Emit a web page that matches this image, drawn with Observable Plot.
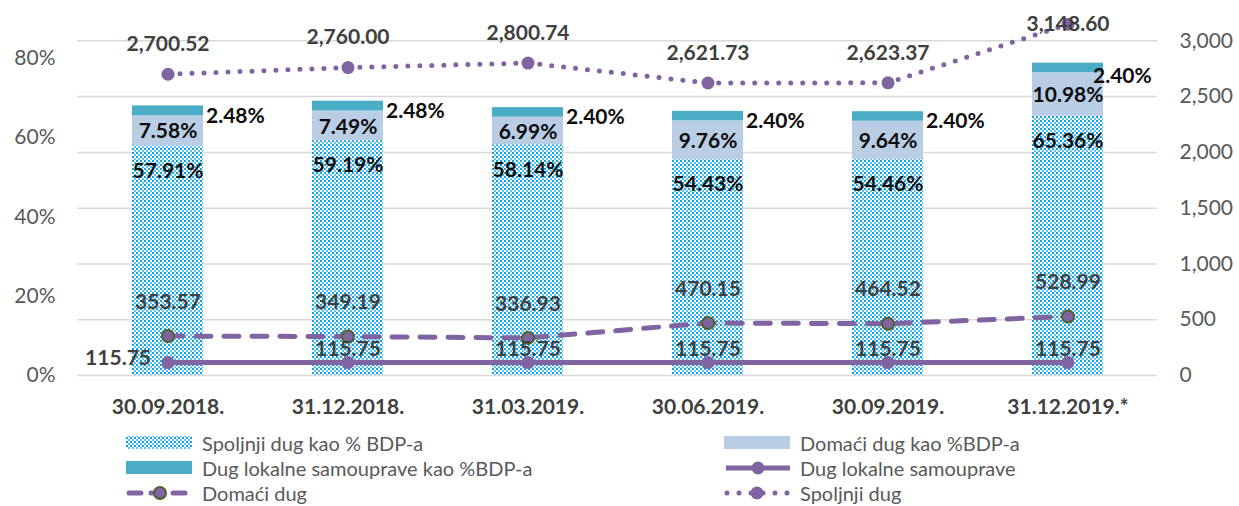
<!DOCTYPE html>
<html>
<head>
<meta charset="utf-8">
<script src="https://cdn.jsdelivr.net/npm/d3@7"></script>
<script src="https://cdn.jsdelivr.net/npm/@observablehq/plot@0.6"></script>
<style>
  html, body { margin: 0; padding: 0; background: #fff; }
  body { width: 1239px; height: 506px; position: relative; overflow: hidden; font-family: Lato, "Open Sans", sans-serif; }
  #chart { position: absolute; left: 0; top: 0; }
  .legend-item { position: absolute; display: flex; align-items: center; font-size: 20px; color: #595959; white-space: nowrap; line-height: 24px; }
  .legend-item svg { margin-right: 8px; flex: none; }
</style>
</head>
<body>
<div id="chart"></div>
<div id="legend"></div>
<script>
// ---- data ----
const dates = ["30.09.2018.", "31.12.2018.", "31.03.2019.", "30.06.2019.", "30.09.2019.", "31.12.2019.*"];
const spoljnjiPct = [57.91, 59.19, 58.14, 54.43, 54.46, 65.36];
const domaciPct = [7.58, 7.49, 6.99, 9.76, 9.64, 10.98];
const lokalnePct = [2.48, 2.48, 2.40, 2.40, 2.40, 2.40];
const spoljnjiDug = [2700.52, 2760.00, 2800.74, 2621.73, 2623.37, 3148.60];
const domaciDug = [353.57, 349.19, 336.93, 470.15, 464.52, 528.99];
const lokalneDug = [115.75, 115.75, 115.75, 115.75, 115.75, 115.75];
const leftTicks = [0, 20, 40, 60, 80];
const rightTicks = [0, 500, 1000, 1500, 2000, 2500, 3000];
const leftMax = 90;
const rightMax = 3200;

const toLeft = v => v / rightMax * leftMax;
const fmtPct = v => v.toFixed(2) + "%";
const fmtNum = d3.format(",.2f");

const rows = dates.map((date, i) => ({
  date,
  ext: spoljnjiPct[i],
  dom: domaciPct[i],
  loc: lokalnePct[i],
  extDebt: spoljnjiDug[i],
  domDebt: domaciDug[i],
  locDebt: lokalneDug[i],
  i
}));

const purple = "#8064A2";
const labelGrey = "#404040";
const axisGrey = "#595959";

const chart = Plot.plot({
  width: 1239,
  height: 430,
  marginLeft: 77,
  marginRight: 82,
  marginTop: 18,
  marginBottom: 55,
  style: { fontFamily: "Lato, 'Open Sans', sans-serif", background: "transparent" },
  x: { type: "band", domain: dates, paddingInner: 0.606, paddingOuter: 0.303, axis: null, label: null },
  y: { domain: [0, leftMax], axis: null, label: null },
  marks: [
    Plot.gridY(rightTicks.map(toLeft), { stroke: "#d9d9d9", strokeOpacity: 1, strokeWidth: 1.5 }),
    Plot.axisY(leftTicks, { anchor: "left", label: null, tickSize: 0, tickPadding: 22, tickFormat: d => d + "%", fontSize: 21, color: axisGrey }),
    Plot.axisY(rightTicks.map(toLeft), { anchor: "right", label: null, tickSize: 0, tickPadding: 22, tickFormat: d => d3.format(",")(Math.round(d / leftMax * rightMax)), fontSize: 21, color: axisGrey }),
    Plot.axisX(dates, { label: null, tickSize: 0, tickPadding: 24, fontSize: 21, fontWeight: "bold", color: labelGrey }),
    // stacked bars
    Plot.barY(rows, { x: "date", y1: 0, y2: "ext", fill: "url(#dots)" }),
    Plot.barY(rows, { x: "date", y1: d => d.ext, y2: d => d.ext + d.dom, fill: "#B9CDE5" }),
    Plot.barY(rows, { x: "date", y1: d => d.ext + d.dom, y2: d => d.ext + d.dom + d.loc, fill: "#4BACC6" }),
    // bar labels
    Plot.text(rows, { x: "date", y: "ext", text: d => fmtPct(d.ext), dy: 25, fontSize: 21, fontWeight: "bold", fill: "#0d0d0d" }),
    Plot.text(rows, { x: "date", y: d => d.ext + d.dom / 2, text: d => fmtPct(d.dom), dy: 1, fontSize: 21, fontWeight: "bold", fill: "#0d0d0d" }),
    Plot.text(rows.filter(d => d.i < 5), { x: "date", y: d => d.ext + d.dom + d.loc / 2, text: d => fmtPct(d.loc), dx: 38, dy: 5, textAnchor: "start", fontSize: 21, fontWeight: "bold", fill: "#0d0d0d" }),
    Plot.text(rows.filter(d => d.i === 5), { x: "date", y: d => d.ext + d.dom + d.loc / 2, text: d => fmtPct(d.loc), dx: 25, dy: 8, textAnchor: "start", fontSize: 21, fontWeight: "bold", fill: "#0d0d0d" }),
    // lines
    Plot.line(rows, { x: "date", y: d => toLeft(d.locDebt), stroke: purple, strokeWidth: 5 }),
    Plot.line(rows, { x: "date", y: d => toLeft(d.domDebt), stroke: purple, strokeWidth: 5, strokeDasharray: "15 13", strokeLinecap: "round" }),
    Plot.line(rows, { x: "date", y: d => toLeft(d.extDebt), stroke: purple, strokeWidth: 5, strokeDasharray: "0 12", strokeLinecap: "round" }),
    Plot.dot(rows, { x: "date", y: d => toLeft(d.locDebt), r: 6.5, fill: purple }),
    Plot.dot(rows, { x: "date", y: d => toLeft(d.domDebt), r: 6, fill: purple, stroke: "#4F6228", strokeWidth: 2 }),
    Plot.dot(rows, { x: "date", y: d => toLeft(d.extDebt), r: 6.5, fill: purple }),
    // line labels
    Plot.text(rows.filter(d => d.i < 5), { x: "date", y: d => toLeft(d.extDebt), text: d => fmtNum(d.extDebt), dy: -30, fontSize: 21, fontWeight: "bold", fill: labelGrey }),
    Plot.text(rows.filter(d => d.i === 5), { x: "date", y: d => toLeft(d.extDebt), text: d => fmtNum(d.extDebt), dy: 0, fontSize: 21, fontWeight: "bold", fill: labelGrey }),
    Plot.text(rows, { x: "date", y: d => toLeft(d.domDebt), text: d => fmtNum(d.domDebt), dy: -34, fontSize: 21, fontWeight: "bold", fill: labelGrey }),
    Plot.text(rows.filter(d => d.i === 0), { x: "date", y: d => toLeft(d.locDebt), text: d => fmtNum(d.locDebt), dx: -17, dy: -4, textAnchor: "end", fontSize: 21, fontWeight: "bold", fill: labelGrey }),
    Plot.text(rows.filter(d => d.i > 0), { x: "date", y: d => toLeft(d.locDebt), text: d => fmtNum(d.locDebt), dy: -13, fontSize: 21, fontWeight: "bold", fill: labelGrey })
  ]
});

// dotted fill pattern
d3.select(chart).insert("defs", ":first-child").html(
  `<pattern id="dots" width="4" height="4" patternUnits="userSpaceOnUse">
     <rect width="4" height="4" fill="#ffffff"/>
     <rect x="0" y="0" width="2" height="2" fill="#0fa3e6"/>
     <rect x="2" y="2" width="2" height="2" fill="#5cc3f0"/>
   </pattern>`
);
document.getElementById("chart").appendChild(chart);

// ---- legend ----
const sw = {
  dots: `<svg width="68" height="20"><defs><pattern id="dotsL" width="4" height="4" patternUnits="userSpaceOnUse"><rect width="4" height="4" fill="#fff"/><rect width="2" height="2" fill="#0fa3e6"/><rect x="2" y="2" width="2" height="2" fill="#5cc3f0"/></pattern></defs><rect x="0" y="3" width="66" height="13" fill="url(#dotsL)"/></svg>`,
  dom: `<svg width="68" height="20"><rect x="0" y="3" width="66" height="13" fill="#B9CDE5"/></svg>`,
  loc: `<svg width="68" height="20"><rect x="0" y="3" width="66" height="13" fill="#4BACC6"/></svg>`,
  solid: `<svg width="68" height="20"><line x1="2" y1="10" x2="66" y2="10" stroke="${purple}" stroke-width="5"/><circle cx="34" cy="10" r="6.5" fill="${purple}"/></svg>`,
  dashed: `<svg width="68" height="20"><line x1="3" y1="10" x2="66" y2="10" stroke="${purple}" stroke-width="5" stroke-linecap="round" stroke-dasharray="12 10"/><circle cx="34" cy="10" r="6" fill="${purple}" stroke="#4F6228" stroke-width="2"/></svg>`,
  dotted: `<svg width="68" height="20"><line x1="3" y1="10" x2="64" y2="10" stroke="${purple}" stroke-width="5" stroke-linecap="round" stroke-dasharray="0 12"/><circle cx="33" cy="10" r="6.5" fill="${purple}"/></svg>`
};
const legendItems = [
  { key: "dots", label: "Spoljnji dug kao % BDP-a", col: 0, row: 0 },
  { key: "dom", label: "Domaći dug kao %BDP-a", col: 1, row: 0 },
  { key: "loc", label: "Dug lokalne samouprave kao %BDP-a", col: 0, row: 1 },
  { key: "solid", label: "Dug lokalne samouprave", col: 1, row: 1 },
  { key: "dashed", label: "Domaći dug", col: 0, row: 2 },
  { key: "dotted", label: "Spoljnji dug", col: 1, row: 2 }
];
const legend = document.getElementById("legend");
const colX = [126, 724];
legendItems.forEach(it => {
  const div = document.createElement("div");
  div.className = "legend-item";
  div.style.left = colX[it.col] + "px";
  div.style.top = (431 + it.row * 25) + "px";
  div.innerHTML = sw[it.key] + `<span>${it.label}</span>`;
  legend.appendChild(div);
});
</script>
</body>
</html>
